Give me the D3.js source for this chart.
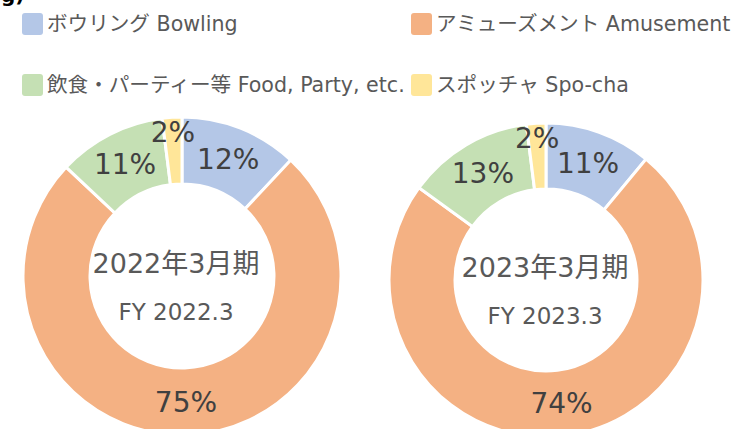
<!DOCTYPE html>
<html>
<head>
<meta charset="utf-8">
<script src="https://cdn.jsdelivr.net/npm/d3@7"></script>
<style>
  body { margin: 0; background: #fff; }
  text { font-family: "DejaVu Sans", "Noto Sans CJK JP", sans-serif; }
</style>
</head>
<body>
<div id="svg"></div>
<script>
const categories = ['ボウリング Bowling', 'アミューズメント Amusement', '飲食・パーティー等 Food, Party, etc.', 'スポッチャ Spo-cha']
const colors = ['#B4C7E7', '#F4B183', '#C5E0B4', '#FFE699']
const fy2022 = [12, 75, 11, 2]
const fy2023 = [11, 74, 13, 2]
const titlesJa = ['2022年3月期', '2023年3月期']
const titlesEn = ['FY 2022.3', 'FY 2023.3']

const svg = d3.select('#svg')
  .append('svg')
    .attr('width', 733)
    .attr('height', 429)

// cropped title remnant at the top
svg.append('text')
  .attr('x', 1)
  .attr('y', 2)
  .style('font-size', '20px')
  .style('font-weight', 'bold')
  .style('fill', '#000')
  .text('g)')

// legend
const legendPos = [[22, 24], [411, 24], [22, 85], [411, 85]]
const legend = svg.append('g')
  .selectAll('g')
  .data(categories)
  .enter()
  .append('g')
    .attr('transform', (d, i) => `translate(${legendPos[i][0]}, ${legendPos[i][1]})`)

legend.append('rect')
  .attr('x', 0)
  .attr('y', -11)
  .attr('width', 21)
  .attr('height', 22)
  .attr('rx', 3)
  .style('fill', (d, i) => colors[i])

legend.append('text')
  .attr('x', 25)
  .attr('y', 0)
  .attr('dy', '0.35em')
  .style('font-size', '20.6px')
  .style('fill', '#595959')
  .text(d => d)

const pie = d3.pie().sort(null).value(d => d)

function drawDonut(values, cx, cy, r, rin, ja, en, tx) {
  const g = svg.append('g').attr('transform', `translate(${cx}, ${cy})`)
  const arc = d3.arc().innerRadius(rin).outerRadius(r)
  const arcs = pie(values)

  g.selectAll('path')
    .data(arcs)
    .enter()
    .append('path')
      .attr('d', arc)
      .style('fill', (d, i) => colors[i])
      .style('stroke', '#fff')
      .style('stroke-width', 3)

  const mid = (r + rin) / 2
  g.selectAll('text.pct')
    .data(arcs)
    .enter()
    .append('text')
      .attr('class', 'pct')
      .attr('transform', d => {
        const lr = d.data < 5 ? r - 15 : mid
        const c = d3.arc().innerRadius(lr).outerRadius(lr).centroid(d)
        return `translate(${c[0]}, ${c[1]})`
      })
      .attr('text-anchor', 'middle')
      .attr('dy', '0.36em')
      .style('font-size', '28px')
      .style('fill', '#404040')
      .text(d => d.data + '%')

  g.append('text')
    .attr('x', tx)
    .attr('y', -13)
    .attr('dy', '0.36em')
    .attr('text-anchor', 'middle')
    .style('font-size', '27px')
    .style('fill', '#595959')
    .text(ja)

  g.append('text')
    .attr('x', tx)
    .attr('y', 36)
    .attr('dy', '0.36em')
    .attr('text-anchor', 'middle')
    .style('font-size', '23px')
    .style('fill', '#595959')
    .text(en)
}

drawDonut(fy2022, 182, 276, 159, 92, titlesJa[0], titlesEn[0], -6)
drawDonut(fy2023, 546, 280, 157, 91, titlesJa[1], titlesEn[1], -1)
</script>
</body>
</html>
